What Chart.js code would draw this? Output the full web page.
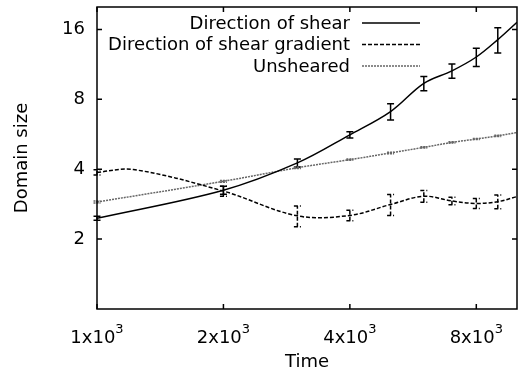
<!DOCTYPE html>
<html>
<head>
<meta charset="utf-8">
<script src="https://cdn.jsdelivr.net/npm/chart.js@4/dist/chart.umd.min.js"></script>
<style>
  html, body { margin: 0; padding: 0; background: #fff; }
  #wrap { width: 532px; height: 379px; }
</style>
</head>
<body>
<div id="wrap"><canvas id="domainChart"></canvas></div>
<script>
// values (log-log plot)
const time = [1000, 2000, 3000, 4000, 5000, 6000, 7000, 8000, 9000, 10000];
const shear = [2.46, 3.25, 4.26, 5.63, 7.09, 9.38, 10.62, 12.18, 14.47, 17.2];
const shearErr = [0.05, 0.13, 0.17, 0.17, 0.57, 0.66, 0.75, 1.1, 1.8, null];
const gradient = [3.88, 3.22, 2.52, 2.53, 2.82, 3.06, 2.92, 2.85, 2.90, 3.05];
const gradientErr = [0.1, 0.16, 0.26, 0.13, 0.29, 0.18, 0.11, 0.14, 0.2, null];
const gradientBumpTime = [1220];
const gradientBump = [3.99];
const unsheared = [2.89, 3.55, 4.06, 4.40, 4.70, 4.97, 5.22, 5.40, 5.57, 5.76];
const unshearedErr = [0.03, 0.03, 0.03, 0.03, 0.03, 0.03, 0.03, 0.03, 0.03, null];
const seriesNames = ['Direction of shear', 'Direction of shear gradient', 'Unsheared'];
const xTicks = [1000, 2000, 4000, 8000];
const yTicks = [2, 4, 8, 16];

const FONT = "'DejaVu Sans', sans-serif";
const FSIZE = 18;

function points(xs, ys) {
  return xs.map((x, i) => ({ x: x, y: ys[i] }));
}

const gradPts = points(time, gradient).concat(points(gradientBumpTime, gradientBump))
  .sort((a, b) => a.x - b.x);

// gnuplot style error bars
const errorBars = {
  id: 'errorBars',
  afterDatasetsDraw(chart) {
    const ctx = chart.ctx;
    const xs = chart.scales.x, ys = chart.scales.y;
    chart.data.datasets.forEach(ds => {
      if (!ds.errors) return;
      ctx.save();
      ctx.strokeStyle = ds.borderColor;
      ctx.lineWidth = 1.5;
      ctx.setLineDash(ds.borderDash || []);
      ds.errors.forEach((e, i) => {
        if (e == null) return;
        const px = xs.getPixelForValue(time[i]);
        const hi = ys.getPixelForValue(ds.values[i] + e);
        const lo = ys.getPixelForValue(ds.values[i] - e);
        ctx.beginPath();
        ctx.moveTo(px, lo); ctx.lineTo(px, hi);
        ctx.moveTo(px - 3.5, lo); ctx.lineTo(px + 3.5, lo);
        ctx.moveTo(px - 3.5, hi); ctx.lineTo(px + 3.5, hi);
        ctx.stroke();
      });
      ctx.restore();
    });
  }
};

// box border, inward mirror ticks, and the 1x10^3 style labels
const frame = {
  id: 'frame',
  afterDraw(chart) {
    const ctx = chart.ctx, a = chart.chartArea;
    const xs = chart.scales.x, ys = chart.scales.y;
    ctx.save();
    ctx.strokeStyle = '#000';
    ctx.lineWidth = 1.5;
    ctx.strokeRect(a.left, a.top, a.right - a.left, a.bottom - a.top);
    ctx.beginPath();
    xTicks.forEach(v => {
      const px = xs.getPixelForValue(v);
      ctx.moveTo(px, a.bottom); ctx.lineTo(px, a.bottom - 5);
      ctx.moveTo(px, a.top); ctx.lineTo(px, a.top + 5);
    });
    yTicks.forEach(v => {
      const py = ys.getPixelForValue(v);
      ctx.moveTo(a.left, py); ctx.lineTo(a.left + 5, py);
      ctx.moveTo(a.right, py); ctx.lineTo(a.right - 5, py);
    });
    ctx.stroke();

    ctx.fillStyle = '#000';
    ctx.textBaseline = 'alphabetic';
    ctx.textAlign = 'left';
    xTicks.forEach(v => {
      const px = xs.getPixelForValue(v);
      const main = (v / 1000) + 'x10';
      ctx.font = FSIZE + 'px ' + FONT;
      const w1 = ctx.measureText(main).width;
      ctx.font = '13px ' + FONT;
      const w2 = ctx.measureText('3').width;
      const x0 = px - (w1 + w2) / 2;
      ctx.font = FSIZE + 'px ' + FONT;
      ctx.fillText(main, x0, a.bottom + 34);
      ctx.font = '13px ' + FONT;
      ctx.fillText('3', x0 + w1, a.bottom + 24);
    });
    ctx.restore();
  }
};

// key in the top right, text right-aligned then line sample
const key = {
  id: 'key',
  afterDraw(chart) {
    const ctx = chart.ctx, a = chart.chartArea;
    ctx.save();
    ctx.font = FSIZE + 'px ' + FONT;
    ctx.textAlign = 'right';
    ctx.textBaseline = 'middle';
    chart.data.datasets.forEach((ds, i) => {
      const y = a.top + 16 + i * 21.5;
      ctx.fillStyle = '#000';
      ctx.fillText(seriesNames[i], a.right - 167, y + 1);
      ctx.strokeStyle = ds.borderColor;
      ctx.lineWidth = 1.5;
      ctx.setLineDash(ds.borderDash || []);
      ctx.beginPath();
      ctx.moveTo(a.right - 155, y);
      ctx.lineTo(a.right - 97, y);
      ctx.stroke();
    });
    ctx.restore();
  }
};

const data = {
  datasets: [{
    label: seriesNames[0],
    data: points(time, shear),
    values: shear,
    errors: shearErr,
    borderColor: '#000',
    borderWidth: 1.5,
    tension: 0.35,
    pointRadius: 0
  }, {
    label: seriesNames[1],
    data: gradPts,
    values: gradient,
    errors: gradientErr,
    borderColor: '#000',
    borderWidth: 1.5,
    borderDash: [4, 2],
    tension: 0.35,
    pointRadius: 0
  }, {
    label: seriesNames[2],
    data: points(time, unsheared),
    values: unsheared,
    errors: unshearedErr,
    borderColor: '#666',
    borderWidth: 1.5,
    borderDash: [2, 1],
    tension: 0.35,
    pointRadius: 0
  }]
};

const config = {
  type: 'line',
  data: data,
  options: {
    responsive: true,
    maintainAspectRatio: false,
    animation: false,
    layout: { padding: { top: 7, right: 15, left: 0, bottom: 0 } },
    plugins: { legend: { display: false }, tooltip: { enabled: false } },
    scales: {
      x: {
        type: 'logarithmic',
        min: 1000,
        max: 10000,
        afterBuildTicks: s => { s.ticks = xTicks.map(v => ({ value: v })); },
        afterFit: s => { s.height = 70; s.paddingLeft = 0; s.paddingRight = 0; },
        grid: { display: false, drawTicks: false },
        border: { display: false },
        ticks: { display: false },
        title: {
          display: true,
          text: 'Time',
          color: '#000',
          font: { family: FONT, size: FSIZE },
          padding: { top: 0, bottom: 6 }
        }
      },
      y: {
        type: 'logarithmic',
        min: 1,
        max: 20,
        afterBuildTicks: s => { s.ticks = yTicks.map(v => ({ value: v })); },
        afterFit: s => { s.width = 97; s.paddingTop = 0; s.paddingBottom = 0; },
        grid: { display: false, drawTicks: false },
        border: { display: false },
        ticks: {
          padding: 12,
          color: '#000',
          font: { family: FONT, size: FSIZE },
          callback: v => String(v)
        },
        title: {
          display: true,
          text: 'Domain size',
          color: '#000',
          font: { family: FONT, size: FSIZE },
          padding: { top: 12, bottom: 0 }
        }
      }
    }
  },
  plugins: [errorBars, frame, key]
};

const domainChart = new Chart(document.getElementById('domainChart'), config);
</script>
</body>
</html>
